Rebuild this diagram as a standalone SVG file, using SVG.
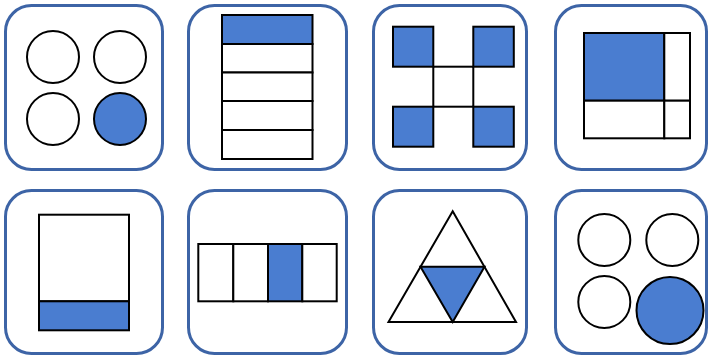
<svg xmlns="http://www.w3.org/2000/svg" width="709" height="356" viewBox="0 0 709 356">
<style>
.card{fill:#fff;stroke:#3d64a6;stroke-width:3}
.w{fill:#fff;stroke:#000;stroke-width:2}
.b{fill:#4a7dd0;stroke:#000;stroke-width:2}
.l{fill:none;stroke:#000;stroke-width:2}
</style>
<rect width="709" height="356" fill="#fff"/>
<g id="card1">
<rect class="card" x="5.5" y="5.5" width="157" height="164" rx="26"/>
<circle class="w" cx="53" cy="57" r="26"/>
<circle class="w" cx="120" cy="57" r="26"/>
<circle class="w" cx="53" cy="119" r="26"/>
<circle class="b" cx="120" cy="119" r="26"/>
</g>
<g id="card2">
<rect class="card" x="188.5" y="5.5" width="158" height="164" rx="26"/>
<rect class="b" x="222" y="15" width="90.5" height="29"/>
<rect class="w" x="222" y="44" width="90.5" height="28.5"/>
<rect class="w" x="222" y="72.5" width="90.5" height="28.5"/>
<rect class="w" x="222" y="101" width="90.5" height="29"/>
<rect class="w" x="222" y="130" width="90.5" height="29"/>
</g>
<g id="card3">
<rect class="card" x="373.5" y="5.5" width="153" height="164" rx="26"/>
<rect class="w" x="433.3" y="66.7" width="40" height="40"/>
<rect class="b" x="393" y="26.7" width="40.3" height="40"/>
<rect class="b" x="473.3" y="26.7" width="40.5" height="40"/>
<rect class="b" x="393" y="106.7" width="40.3" height="40"/>
<rect class="b" x="473.3" y="106.7" width="40.5" height="40"/>
</g>
<g id="card4">
<rect class="card" x="555.5" y="5.5" width="151" height="164" rx="26"/>
<rect class="b" x="584" y="33" width="80.3" height="67.7"/>
<rect class="w" x="664.3" y="33" width="25.7" height="67.7"/>
<rect class="w" x="584" y="100.7" width="80.3" height="37.6"/>
<rect class="w" x="664.3" y="100.7" width="25.7" height="37.6"/>
</g>
<g id="card5">
<rect class="card" x="5.5" y="190.5" width="157" height="163" rx="26"/>
<rect class="w" x="39" y="214.7" width="90" height="86.6"/>
<rect class="b" x="39" y="301.3" width="90" height="29"/>
</g>
<g id="card6">
<rect class="card" x="188.5" y="190.5" width="158" height="163" rx="26"/>
<rect class="w" x="198.3" y="244" width="35" height="57.3"/>
<rect class="w" x="233.3" y="244" width="34.7" height="57.3"/>
<rect class="b" x="268" y="244" width="34.3" height="57.3"/>
<rect class="w" x="302.3" y="244" width="34.4" height="57.3"/>
</g>
<g id="card7">
<rect class="card" x="373.5" y="190.5" width="153" height="163" rx="26"/>
<polygon class="w" points="452.7,211.3 516,322 388.5,322"/>
<polygon class="b" points="420.5,266.7 484.5,266.7 452.7,322"/>
</g>
<g id="card8">
<rect class="card" x="555.5" y="190.5" width="151" height="163" rx="26"/>
<circle class="w" cx="604.3" cy="240" r="26"/>
<circle class="w" cx="672.3" cy="240" r="26"/>
<circle class="w" cx="604.3" cy="302" r="26"/>
<circle class="b" cx="670" cy="310.5" r="33.5"/>
</g>
</svg>
